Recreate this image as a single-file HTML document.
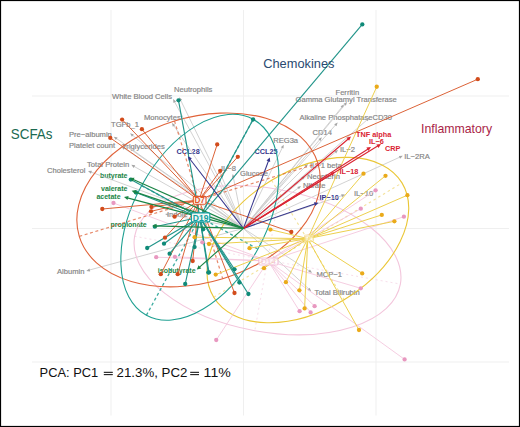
<!DOCTYPE html>
<html><head><meta charset="utf-8"><style>html,body{margin:0;padding:0;background:#fff;overflow:hidden;}svg{display:block;}svg text{font-family:"Liberation Sans", sans-serif;}</style></head>
<body>
<svg width="520" height="427" viewBox="0 0 520 427" font-family="Liberation Sans, sans-serif">
<rect x="0" y="0" width="520" height="427" fill="#fff"/>
<line x1="111" y1="10" x2="111" y2="415.5" stroke="#efefef" stroke-width="1"/>
<line x1="243.5" y1="10" x2="243.5" y2="415.5" stroke="#efefef" stroke-width="1"/>
<line x1="376" y1="10" x2="376" y2="415.5" stroke="#efefef" stroke-width="1"/>
<line x1="32" y1="96" x2="509" y2="96" stroke="#efefef" stroke-width="1"/>
<line x1="32" y1="228.5" x2="509" y2="228.5" stroke="#efefef" stroke-width="1"/>
<line x1="32" y1="362" x2="509" y2="362" stroke="#efefef" stroke-width="1"/>
<text x="112" y="98.8" font-size="7.6" fill="#858585" stroke="#858585" stroke-width="0.18">White Blood Cells</text>
<text x="174" y="91.8" font-size="7.6" fill="#858585" stroke="#858585" stroke-width="0.18">Neutrophils</text>
<text x="144" y="120.3" font-size="7.6" fill="#858585" stroke="#858585" stroke-width="0.18">Monocytes</text>
<text x="111" y="127.3" font-size="7.6" fill="#858585" stroke="#858585" stroke-width="0.18">TGFb_1</text>
<text x="69" y="136.8" font-size="7.6" fill="#858585" stroke="#858585" stroke-width="0.18">Pre−albumin</text>
<text x="69" y="148.3" font-size="7.6" fill="#858585" stroke="#858585" stroke-width="0.18">Platelet count</text>
<text x="122" y="148.6" font-size="7.6" fill="#858585" stroke="#858585" stroke-width="0.18">Triglycerides</text>
<text x="87" y="166.8" font-size="7.6" fill="#858585" stroke="#858585" stroke-width="0.18">Total Protein</text>
<text x="47" y="173.3" font-size="7.6" fill="#858585" stroke="#858585" stroke-width="0.18">Cholesterol</text>
<text x="57" y="273.6" font-size="7.6" fill="#858585" stroke="#858585" stroke-width="0.18">Albumin</text>
<text x="240" y="175.5" font-size="7.6" fill="#858585" stroke="#858585" stroke-width="0.18">Glucose</text>
<text x="221" y="171.2" font-size="7.6" fill="#858585" stroke="#858585" stroke-width="0.18">IL−8</text>
<text x="273.2" y="143.3" font-size="7.6" fill="#858585" stroke="#858585" stroke-width="0.18">REG3a</text>
<text x="312.5" y="135.3" font-size="7.6" fill="#858585" stroke="#858585" stroke-width="0.18">CD14</text>
<text x="299.5" y="120.3" font-size="7.6" fill="#858585" stroke="#858585" stroke-width="0.18">Alkaline Phosphatase</text>
<text x="295.5" y="101.7" font-size="7.6" fill="#858585" stroke="#858585" stroke-width="0.18">Gamma Glutamyl Transferase</text>
<text x="335.5" y="94.5" font-size="7.6" fill="#858585" stroke="#858585" stroke-width="0.18">Ferritin</text>
<text x="372.5" y="119.8" font-size="7.6" fill="#858585" stroke="#858585" stroke-width="0.18">CD30</text>
<text x="340" y="152.3" font-size="7.6" fill="#858585" stroke="#858585" stroke-width="0.18">IL−2</text>
<text x="310" y="167.8" font-size="7.6" fill="#858585" stroke="#858585" stroke-width="0.18">IL−1 beta</text>
<text x="307" y="178.6" font-size="7.6" fill="#858585" stroke="#858585" stroke-width="0.18">Neopterin</text>
<text x="303" y="188" font-size="7.6" fill="#858585" stroke="#858585" stroke-width="0.18">Nitrate</text>
<text x="354" y="195.8" font-size="7.6" fill="#858585" stroke="#858585" stroke-width="0.18">IL−10</text>
<text x="404.2" y="158.6" font-size="7.6" fill="#858585" stroke="#858585" stroke-width="0.18">IL−2RA</text>
<text x="316.4" y="276.8" font-size="7.6" fill="#858585" stroke="#858585" stroke-width="0.18">MCP−1</text>
<text x="314.6" y="294.9" font-size="7.6" fill="#858585" stroke="#858585" stroke-width="0.18">Total Bilirubin</text>
<text x="167" y="217.4" font-size="7.6" fill="#858585" stroke="#858585" stroke-width="0.18">Indole</text>
<text x="176.6" y="154" font-size="7.3" font-weight="bold" fill="#35358c">CCL28</text>
<text x="254.5" y="153.8" font-size="7.3" font-weight="bold" fill="#35358c">CCL25</text>
<text x="319.5" y="200.3" font-size="7.3" font-weight="bold" fill="#35358c">IP−10</text>
<text x="356" y="137.2" font-size="7.3" font-weight="bold" fill="#da2432">TNF alpha</text>
<text x="369" y="143.8" font-size="7.3" font-weight="bold" fill="#da2432">IL−6</text>
<text x="385" y="150.8" font-size="7.3" font-weight="bold" fill="#da2432">CRP</text>
<text x="339.5" y="173.8" font-size="7.3" font-weight="bold" fill="#da2432">IL−18</text>
<text x="99.9" y="177.7" font-size="7" font-weight="bold" fill="#1b8545">butyrate</text>
<text x="101" y="190.7" font-size="7" font-weight="bold" fill="#1b8545">valerate</text>
<text x="96.4" y="199.4" font-size="7" font-weight="bold" fill="#1b8545">acetate</text>
<text x="110.6" y="227.4" font-size="7" font-weight="bold" fill="#1b8545">propionate</text>
<text x="157.8" y="272.8" font-size="7" font-weight="bold" fill="#1b8545">isobutyrate</text>
<line x1="243.4" y1="228.4" x2="174.1" y2="101.0" stroke="#cacaca" stroke-width="0.85" opacity="1"/><polygon points="173.1,99.1 176.1,101.5 173.5,103.0" fill="#a6a6a6" opacity="1"/>
<line x1="243.4" y1="228.4" x2="180.1" y2="99.1" stroke="#cacaca" stroke-width="0.85" opacity="1"/><polygon points="179.2,97.2 182.1,99.8 179.4,101.1" fill="#a6a6a6" opacity="1"/>
<line x1="243.4" y1="228.4" x2="173.2" y2="124.7" stroke="#cacaca" stroke-width="0.85" opacity="1"/><polygon points="172.0,122.9 175.3,125.0 172.8,126.7" fill="#a6a6a6" opacity="1"/>
<line x1="243.4" y1="228.4" x2="131.8" y2="134.6" stroke="#cacaca" stroke-width="0.85" opacity="1"/><polygon points="130.1,133.2 133.8,134.4 131.9,136.7" fill="#a6a6a6" opacity="1"/>
<line x1="243.4" y1="228.4" x2="115.6" y2="137.9" stroke="#cacaca" stroke-width="0.85" opacity="1"/><polygon points="113.8,136.7 117.6,137.6 115.9,140.0" fill="#a6a6a6" opacity="1"/>
<line x1="243.4" y1="228.4" x2="123.2" y2="147.7" stroke="#cacaca" stroke-width="0.85" opacity="1"/><polygon points="121.4,146.5 125.2,147.3 123.6,149.8" fill="#a6a6a6" opacity="1"/>
<line x1="243.4" y1="228.4" x2="124.8" y2="145.2" stroke="#cacaca" stroke-width="0.85" opacity="1"/><polygon points="123.0,144.0 126.8,144.8 125.1,147.3" fill="#a6a6a6" opacity="1"/>
<line x1="243.4" y1="228.4" x2="133.2" y2="165.9" stroke="#cacaca" stroke-width="0.85" opacity="1"/><polygon points="131.3,164.8 135.2,165.3 133.7,167.9" fill="#a6a6a6" opacity="1"/>
<line x1="243.4" y1="228.4" x2="90.0" y2="171.7" stroke="#cacaca" stroke-width="0.85" opacity="1"/><polygon points="88.0,171.0 91.9,170.8 90.9,173.7" fill="#a6a6a6" opacity="1"/>
<line x1="243.4" y1="228.4" x2="88.4" y2="270.3" stroke="#cacaca" stroke-width="0.85" opacity="1"/><polygon points="86.3,270.9 89.4,268.5 90.2,271.4" fill="#a6a6a6" opacity="1"/>
<line x1="243.4" y1="228.4" x2="233.1" y2="176.1" stroke="#cacaca" stroke-width="0.85" opacity="1"/><polygon points="232.7,174.0 234.9,177.2 231.9,177.8" fill="#a6a6a6" opacity="1"/>
<line x1="243.4" y1="228.4" x2="219.8" y2="172.0" stroke="#cacaca" stroke-width="0.85" opacity="1"/><polygon points="219.0,170.0 221.8,172.7 219.0,173.9" fill="#a6a6a6" opacity="1"/>
<line x1="243.4" y1="228.4" x2="282.8" y2="146.6" stroke="#cacaca" stroke-width="0.85" opacity="1"/><polygon points="283.7,144.7 283.5,148.6 280.8,147.3" fill="#a6a6a6" opacity="1"/>
<line x1="243.4" y1="228.4" x2="320.4" y2="138.9" stroke="#cacaca" stroke-width="0.85" opacity="1"/><polygon points="321.8,137.3 320.6,141.0 318.3,139.1" fill="#a6a6a6" opacity="1"/>
<line x1="243.4" y1="228.4" x2="336.3" y2="124.1" stroke="#cacaca" stroke-width="0.85" opacity="1"/><polygon points="337.7,122.5 336.4,126.2 334.2,124.2" fill="#a6a6a6" opacity="1"/>
<line x1="243.4" y1="228.4" x2="342.6" y2="106.2" stroke="#cacaca" stroke-width="0.85" opacity="1"/><polygon points="344.0,104.5 342.9,108.2 340.6,106.3" fill="#a6a6a6" opacity="1"/>
<line x1="243.4" y1="228.4" x2="345.6" y2="103.7" stroke="#cacaca" stroke-width="0.85" opacity="1"/><polygon points="347.0,102.0 345.9,105.7 343.6,103.8" fill="#a6a6a6" opacity="1"/>
<line x1="243.4" y1="228.4" x2="367.8" y2="119.2" stroke="#cacaca" stroke-width="0.85" opacity="1"/><polygon points="369.4,117.8 367.7,121.3 365.7,119.0" fill="#a6a6a6" opacity="1"/>
<line x1="243.4" y1="228.4" x2="336.3" y2="151.4" stroke="#cacaca" stroke-width="0.85" opacity="1"/><polygon points="338.0,150.0 336.2,153.5 334.3,151.1" fill="#a6a6a6" opacity="1"/>
<line x1="243.4" y1="228.4" x2="306.5" y2="165.5" stroke="#cacaca" stroke-width="0.85" opacity="1"/><polygon points="308.0,164.0 306.5,167.6 304.4,165.5" fill="#a6a6a6" opacity="1"/>
<line x1="243.4" y1="228.4" x2="303.4" y2="177.4" stroke="#cacaca" stroke-width="0.85" opacity="1"/><polygon points="305.0,176.0 303.2,179.5 301.3,177.2" fill="#a6a6a6" opacity="1"/>
<line x1="243.4" y1="228.4" x2="299.3" y2="187.3" stroke="#cacaca" stroke-width="0.85" opacity="1"/><polygon points="301.0,186.0 299.0,189.3 297.2,186.9" fill="#a6a6a6" opacity="1"/>
<line x1="243.4" y1="228.4" x2="343.0" y2="195.3" stroke="#cacaca" stroke-width="0.85" opacity="1"/><polygon points="345.0,194.6 342.1,197.2 341.1,194.3" fill="#a6a6a6" opacity="1"/>
<line x1="243.4" y1="228.4" x2="400.8" y2="156.7" stroke="#cacaca" stroke-width="0.85" opacity="1"/><polygon points="402.8,155.8 400.1,158.7 398.9,155.9" fill="#a6a6a6" opacity="1"/>
<line x1="243.4" y1="228.4" x2="310.3" y2="271.6" stroke="#cacaca" stroke-width="0.85" opacity="1"/><polygon points="312.1,272.8 308.3,272.1 309.9,269.6" fill="#a6a6a6" opacity="1"/>
<line x1="243.4" y1="228.4" x2="309.6" y2="289.7" stroke="#cacaca" stroke-width="0.85" opacity="1"/><polygon points="311.2,291.2 307.5,289.9 309.6,287.7" fill="#a6a6a6" opacity="1"/>
<line x1="243.4" y1="228.4" x2="167.1" y2="214.4" stroke="#cacaca" stroke-width="0.85" opacity="1"/><polygon points="165.0,214.0 168.8,213.2 168.3,216.1" fill="#a6a6a6" opacity="1"/>
<ellipse cx="267.5" cy="260.2" rx="135" ry="71.6" transform="rotate(10.2 267.5 260.2)" fill="none" stroke="#f3c6dc" stroke-width="1.1"/><line x1="134.6" y1="236.3" x2="400.4" y2="284.1" stroke="#f3c6dc" stroke-width="1.0" stroke-dasharray="2,3" opacity="0.55"/><line x1="280.2" y1="189.7" x2="254.8" y2="330.7" stroke="#f3c6dc" stroke-width="1.0" stroke-dasharray="2,3" opacity="0.55"/>
<ellipse cx="307.86" cy="240.04" rx="110.15" ry="69.86" transform="rotate(-31.27 307.86 240.04)" fill="none" stroke="#eac636" stroke-width="1.1"/><line x1="213.7" y1="297.2" x2="402.0" y2="182.9" stroke="#eac636" stroke-width="1.1" stroke-dasharray="2.5,3" opacity="0.5"/><line x1="271.6" y1="180.3" x2="344.1" y2="299.8" stroke="#eac636" stroke-width="1.1" stroke-dasharray="2.5,3" opacity="0.5"/>
<ellipse cx="198.6" cy="199.9" rx="124.8" ry="82.5" transform="rotate(-17 198.6 199.9)" fill="none" stroke="#e0633a" stroke-width="1.1"/><line x1="79.3" y1="236.4" x2="317.9" y2="163.4" stroke="#e0633a" stroke-width="1.2" stroke-dasharray="3,2.6" opacity="0.75"/><line x1="174.5" y1="121.0" x2="222.7" y2="278.8" stroke="#e0633a" stroke-width="1.2" stroke-dasharray="3,2.6" opacity="0.75"/>
<ellipse cx="199.8" cy="217.3" rx="111.6" ry="66.2" transform="rotate(-61.4 199.8 217.3)" fill="none" stroke="#1fa092" stroke-width="1.1"/><line x1="146.4" y1="315.3" x2="253.2" y2="119.3" stroke="#1fa092" stroke-width="1.35" stroke-dasharray="3,2.6" opacity="0.85"/><line x1="141.7" y1="185.6" x2="257.9" y2="249.0" stroke="#1fa092" stroke-width="1.35" stroke-dasharray="3,2.6" opacity="0.85"/>
<line x1="268.2" y1="261" x2="404.6" y2="359.4" stroke="#f3c4db" stroke-width="0.85"/>
<line x1="268.2" y1="261" x2="360.8" y2="288.3" stroke="#f3c4db" stroke-width="0.85"/>
<line x1="268.2" y1="261" x2="299.6" y2="311.2" stroke="#f3c4db" stroke-width="0.85"/>
<line x1="268.2" y1="261" x2="310.6" y2="312.4" stroke="#f3c4db" stroke-width="0.85"/>
<line x1="268.2" y1="261" x2="314.6" y2="306.2" stroke="#f3c4db" stroke-width="0.85"/>
<line x1="268.2" y1="261" x2="375.6" y2="190.3" stroke="#f3c4db" stroke-width="0.85"/>
<line x1="268.2" y1="261" x2="360.8" y2="208.7" stroke="#f3c4db" stroke-width="0.85"/>
<line x1="268.2" y1="261" x2="403.9" y2="216.7" stroke="#f3c4db" stroke-width="0.85"/>
<line x1="268.2" y1="261" x2="216.25" y2="340" stroke="#f3c4db" stroke-width="0.85"/>
<line x1="268.2" y1="261" x2="113.5" y2="203" stroke="#f3c4db" stroke-width="0.85"/>
<line x1="268.2" y1="261" x2="156.2" y2="257.2" stroke="#f3c4db" stroke-width="0.85"/>
<line x1="268.2" y1="261" x2="174.9" y2="256.8" stroke="#f3c4db" stroke-width="0.85"/>
<line x1="268.2" y1="261" x2="202.3" y2="242.3" stroke="#f3c4db" stroke-width="0.85"/>
<line x1="307.8" y1="238.6" x2="376.75" y2="86.75" stroke="#edd04e" stroke-width="1.0"/>
<line x1="307.8" y1="238.6" x2="363.5" y2="173.7" stroke="#edd04e" stroke-width="1.0"/>
<line x1="307.8" y1="238.6" x2="385.5" y2="175.8" stroke="#edd04e" stroke-width="1.0"/>
<line x1="307.8" y1="238.6" x2="407.4" y2="195.2" stroke="#edd04e" stroke-width="1.0"/>
<line x1="307.8" y1="238.6" x2="381.8" y2="214.9" stroke="#edd04e" stroke-width="1.0"/>
<line x1="307.8" y1="238.6" x2="394.4" y2="221.3" stroke="#edd04e" stroke-width="1.0"/>
<line x1="307.8" y1="238.6" x2="362.2" y2="273.4" stroke="#edd04e" stroke-width="1.0"/>
<line x1="307.8" y1="238.6" x2="359" y2="330" stroke="#edd04e" stroke-width="1.0"/>
<line x1="307.8" y1="238.6" x2="285.9" y2="282.2" stroke="#edd04e" stroke-width="1.0"/>
<line x1="307.8" y1="238.6" x2="299.4" y2="290.3" stroke="#edd04e" stroke-width="1.0"/>
<line x1="307.8" y1="238.6" x2="304.6" y2="308.4" stroke="#edd04e" stroke-width="1.0"/>
<line x1="307.8" y1="238.6" x2="264" y2="268.2" stroke="#edd04e" stroke-width="1.0"/>
<line x1="307.8" y1="238.6" x2="249.5" y2="248.2" stroke="#edd04e" stroke-width="1.0"/>
<line x1="307.8" y1="238.6" x2="215.7" y2="274.6" stroke="#edd04e" stroke-width="1.0"/>
<line x1="307.8" y1="238.6" x2="209" y2="244" stroke="#edd04e" stroke-width="1.0"/>
<line x1="307.8" y1="238.6" x2="270.4" y2="229.6" stroke="#edd04e" stroke-width="1.0"/>
<line x1="307.8" y1="238.6" x2="194.6" y2="237.2" stroke="#edd04e" stroke-width="1.0"/>
<line x1="199" y1="200.2" x2="477.8" y2="79.2" stroke="#dc6338" stroke-width="1.0"/>
<line x1="199" y1="200.2" x2="122.1" y2="119.6" stroke="#dc6338" stroke-width="1.0"/>
<line x1="199" y1="200.2" x2="141.9" y2="129.2" stroke="#dc6338" stroke-width="1.0"/>
<line x1="199" y1="200.2" x2="110.3" y2="137.9" stroke="#dc6338" stroke-width="1.0"/>
<line x1="199" y1="200.2" x2="217.2" y2="144.4" stroke="#dc6338" stroke-width="1.0"/>
<line x1="199" y1="200.2" x2="237.8" y2="156.8" stroke="#dc6338" stroke-width="1.0"/>
<line x1="199" y1="200.2" x2="220.2" y2="170.8" stroke="#dc6338" stroke-width="1.0"/>
<line x1="199" y1="200.2" x2="102.3" y2="209" stroke="#dc6338" stroke-width="1.0"/>
<line x1="199" y1="200.2" x2="151.5" y2="207" stroke="#dc6338" stroke-width="1.0"/>
<line x1="199" y1="200.2" x2="151" y2="211.3" stroke="#dc6338" stroke-width="1.0"/>
<line x1="199" y1="200.2" x2="174.6" y2="216.7" stroke="#dc6338" stroke-width="1.0"/>
<line x1="199" y1="200.2" x2="165" y2="237.7" stroke="#dc6338" stroke-width="1.0"/>
<line x1="199" y1="200.2" x2="192.7" y2="261" stroke="#dc6338" stroke-width="1.0"/>
<line x1="199" y1="200.2" x2="160.8" y2="274.2" stroke="#dc6338" stroke-width="1.0"/>
<line x1="199" y1="200.2" x2="177.7" y2="274.2" stroke="#dc6338" stroke-width="1.0"/>
<line x1="199" y1="200.2" x2="234.5" y2="293" stroke="#dc6338" stroke-width="1.0"/>
<line x1="199" y1="200.2" x2="291.3" y2="232" stroke="#dc6338" stroke-width="1.0"/>
<line x1="199.8" y1="217.3" x2="362.3" y2="24.4" stroke="#22958a" stroke-width="1.15"/>
<line x1="199.8" y1="217.3" x2="178.5" y2="100.3" stroke="#22958a" stroke-width="1.15"/>
<line x1="199.8" y1="217.3" x2="253.1" y2="119.5" stroke="#22958a" stroke-width="1.15"/>
<line x1="199.8" y1="217.3" x2="130.8" y2="179.6" stroke="#22958a" stroke-width="1.15"/>
<line x1="199.8" y1="217.3" x2="136" y2="192.5" stroke="#22958a" stroke-width="1.15"/>
<line x1="199.8" y1="217.3" x2="154.8" y2="226.7" stroke="#22958a" stroke-width="1.15"/>
<line x1="199.8" y1="217.3" x2="147.2" y2="248" stroke="#22958a" stroke-width="1.15"/>
<line x1="199.8" y1="217.3" x2="164" y2="243.7" stroke="#22958a" stroke-width="1.15"/>
<line x1="199.8" y1="217.3" x2="169.6" y2="253.7" stroke="#22958a" stroke-width="1.15"/>
<line x1="199.8" y1="217.3" x2="185.2" y2="284" stroke="#22958a" stroke-width="1.15"/>
<line x1="199.8" y1="217.3" x2="209" y2="272.4" stroke="#22958a" stroke-width="1.15"/>
<line x1="199.8" y1="217.3" x2="194.6" y2="247.1" stroke="#22958a" stroke-width="1.15"/>
<line x1="199.8" y1="217.3" x2="234.5" y2="269.3" stroke="#22958a" stroke-width="1.15"/>
<line x1="199.8" y1="217.3" x2="239.4" y2="282.5" stroke="#22958a" stroke-width="1.15"/>
<line x1="199.8" y1="217.3" x2="248.4" y2="294" stroke="#22958a" stroke-width="1.15"/>
<line x1="199.8" y1="217.3" x2="208.3" y2="272.6" stroke="#22958a" stroke-width="1.15"/>
<line x1="199.8" y1="217.3" x2="203.2" y2="229.3" stroke="#22958a" stroke-width="1.15"/>
<circle cx="404.6" cy="359.4" r="2.15" fill="#e898c0"/>
<circle cx="360.8" cy="288.3" r="2.15" fill="#e898c0"/>
<circle cx="299.6" cy="311.2" r="2.15" fill="#e898c0"/>
<circle cx="310.6" cy="312.4" r="2.15" fill="#e898c0"/>
<circle cx="314.6" cy="306.2" r="2.15" fill="#e898c0"/>
<circle cx="375.6" cy="190.3" r="2.15" fill="#e898c0"/>
<circle cx="360.8" cy="208.7" r="2.15" fill="#e898c0"/>
<circle cx="403.9" cy="216.7" r="2.15" fill="#e898c0"/>
<circle cx="216.25" cy="340" r="2.15" fill="#e898c0"/>
<circle cx="113.5" cy="203" r="2.15" fill="#e898c0"/>
<circle cx="156.2" cy="257.2" r="2.15" fill="#e898c0"/>
<circle cx="174.9" cy="256.8" r="2.15" fill="#e898c0"/>
<circle cx="202.3" cy="242.3" r="2.15" fill="#e898c0"/>
<circle cx="376.75" cy="86.75" r="2.15" fill="#eaaa1a"/>
<circle cx="363.5" cy="173.7" r="2.15" fill="#eaaa1a"/>
<circle cx="385.5" cy="175.8" r="2.15" fill="#eaaa1a"/>
<circle cx="407.4" cy="195.2" r="2.15" fill="#eaaa1a"/>
<circle cx="381.8" cy="214.9" r="2.15" fill="#eaaa1a"/>
<circle cx="394.4" cy="221.3" r="2.15" fill="#eaaa1a"/>
<circle cx="362.2" cy="273.4" r="2.15" fill="#eaaa1a"/>
<circle cx="359" cy="330" r="2.15" fill="#eaaa1a"/>
<circle cx="285.9" cy="282.2" r="2.15" fill="#eaaa1a"/>
<circle cx="299.4" cy="290.3" r="2.15" fill="#eaaa1a"/>
<circle cx="304.6" cy="308.4" r="2.15" fill="#eaaa1a"/>
<circle cx="264" cy="268.2" r="2.15" fill="#eaaa1a"/>
<circle cx="249.5" cy="248.2" r="2.15" fill="#eaaa1a"/>
<circle cx="215.7" cy="274.6" r="2.15" fill="#eaaa1a"/>
<circle cx="209" cy="244" r="2.15" fill="#eaaa1a"/>
<circle cx="270.4" cy="229.6" r="2.15" fill="#eaaa1a"/>
<circle cx="194.6" cy="237.2" r="2.15" fill="#eaaa1a"/>
<circle cx="477.8" cy="79.2" r="2.15" fill="#d24c1c"/>
<circle cx="122.1" cy="119.6" r="2.15" fill="#d24c1c"/>
<circle cx="141.9" cy="129.2" r="2.15" fill="#d24c1c"/>
<circle cx="110.3" cy="137.9" r="2.15" fill="#d24c1c"/>
<circle cx="217.2" cy="144.4" r="2.15" fill="#d24c1c"/>
<circle cx="237.8" cy="156.8" r="2.15" fill="#d24c1c"/>
<circle cx="220.2" cy="170.8" r="2.15" fill="#d24c1c"/>
<circle cx="102.3" cy="209" r="2.15" fill="#d24c1c"/>
<circle cx="151.5" cy="207" r="2.15" fill="#d24c1c"/>
<circle cx="151" cy="211.3" r="2.15" fill="#d24c1c"/>
<circle cx="174.6" cy="216.7" r="2.15" fill="#d24c1c"/>
<circle cx="165" cy="237.7" r="2.15" fill="#d24c1c"/>
<circle cx="192.7" cy="261" r="2.15" fill="#d24c1c"/>
<circle cx="160.8" cy="274.2" r="2.15" fill="#d24c1c"/>
<circle cx="177.7" cy="274.2" r="2.15" fill="#d24c1c"/>
<circle cx="234.5" cy="293" r="2.15" fill="#d24c1c"/>
<circle cx="291.3" cy="232" r="2.15" fill="#d24c1c"/>
<circle cx="362.3" cy="24.4" r="2.15" fill="#0f8a78"/>
<circle cx="178.5" cy="100.3" r="2.15" fill="#0f8a78"/>
<circle cx="253.1" cy="119.5" r="2.15" fill="#0f8a78"/>
<circle cx="130.8" cy="179.6" r="2.15" fill="#0f8a78"/>
<circle cx="136" cy="192.5" r="2.15" fill="#0f8a78"/>
<circle cx="154.8" cy="226.7" r="2.15" fill="#0f8a78"/>
<circle cx="147.2" cy="248" r="2.15" fill="#0f8a78"/>
<circle cx="164" cy="243.7" r="2.15" fill="#0f8a78"/>
<circle cx="169.6" cy="253.7" r="2.15" fill="#0f8a78"/>
<circle cx="185.2" cy="284" r="2.15" fill="#0f8a78"/>
<circle cx="209" cy="272.4" r="2.15" fill="#0f8a78"/>
<circle cx="194.6" cy="247.1" r="2.15" fill="#0f8a78"/>
<circle cx="234.5" cy="269.3" r="2.15" fill="#0f8a78"/>
<circle cx="239.4" cy="282.5" r="2.15" fill="#0f8a78"/>
<circle cx="248.4" cy="294" r="2.15" fill="#0f8a78"/>
<circle cx="208.3" cy="272.6" r="2.15" fill="#0f8a78"/>
<circle cx="203.2" cy="229.3" r="2.15" fill="#0f8a78"/>
<line x1="243.4" y1="228.4" x2="189.3" y2="158.2" stroke="#35358c" stroke-width="1.05" opacity="1"/><polygon points="187.8,156.2 191.9,158.3 188.8,160.7" fill="#35358c" opacity="1"/>
<line x1="243.4" y1="228.4" x2="268.9" y2="159.8" stroke="#35358c" stroke-width="1.05" opacity="1"/><polygon points="269.8,157.4 270.2,162.0 266.5,160.6" fill="#35358c" opacity="1"/>
<line x1="243.4" y1="228.4" x2="316.1" y2="203.6" stroke="#35358c" stroke-width="1.05" opacity="1"/><polygon points="318.5,202.8 315.2,206.0 313.9,202.3" fill="#35358c" opacity="1"/>
<line x1="243.4" y1="228.4" x2="349.1" y2="138.2" stroke="#da2432" stroke-width="1.15" opacity="1"/><polygon points="351.0,136.6 349.1,140.8 346.5,137.8" fill="#da2432" opacity="1"/>
<line x1="243.4" y1="228.4" x2="368.9" y2="148.4" stroke="#da2432" stroke-width="1.15" opacity="1"/><polygon points="371.0,147.0 368.5,150.9 366.4,147.6" fill="#da2432" opacity="1"/>
<line x1="243.4" y1="228.4" x2="378.9" y2="145.3" stroke="#da2432" stroke-width="1.15" opacity="1"/><polygon points="381.0,144.0 378.5,147.9 376.4,144.5" fill="#da2432" opacity="1"/>
<line x1="243.4" y1="228.4" x2="332.9" y2="173.3" stroke="#da2432" stroke-width="1.15" opacity="1"/><polygon points="335.0,172.0 332.5,175.9 330.4,172.5" fill="#da2432" opacity="1"/>
<line x1="243.4" y1="228.4" x2="132.1" y2="179.0" stroke="#1b8545" stroke-width="1.15" opacity="1"/><polygon points="129.8,178.0 134.5,177.8 132.8,181.6" fill="#1b8545" opacity="1"/>
<line x1="243.4" y1="228.4" x2="134.1" y2="191.6" stroke="#1b8545" stroke-width="1.15" opacity="1"/><polygon points="131.7,190.8 136.4,190.1 135.0,194.1" fill="#1b8545" opacity="1"/>
<line x1="243.4" y1="228.4" x2="126.4" y2="197.6" stroke="#1b8545" stroke-width="1.15" opacity="1"/><polygon points="124.0,197.0 128.6,196.0 127.5,200.1" fill="#1b8545" opacity="1"/>
<line x1="243.4" y1="228.4" x2="154.8" y2="225.9" stroke="#1b8545" stroke-width="1.15" opacity="1"/><polygon points="152.3,225.8 156.6,223.8 156.4,228.0" fill="#1b8545" opacity="1"/>
<line x1="243.4" y1="228.4" x2="198.7" y2="267.9" stroke="#1b8545" stroke-width="1.15" opacity="1"/><polygon points="196.8,269.6 198.6,265.2 201.3,268.4" fill="#1b8545" opacity="1"/>
<g opacity="1"><rect x="193.3" y="196.4" width="12.7" height="7.9" fill="#fff" fill-opacity="0.9" stroke="#e2582a" stroke-width="1.1" rx="1.2"/><text x="199.7" y="203.3" font-size="8.2" font-weight="bold" text-anchor="middle" fill="#e2582a">D7</text></g>
<g opacity="1"><rect x="191.4" y="212.9" width="18.4" height="9.0" fill="#fff" fill-opacity="0.9" stroke="#12a0a0" stroke-width="1.1" rx="1.2"/><text x="200.6" y="220.9" font-size="8.6" font-weight="bold" text-anchor="middle" fill="#12a0a0">D19</text></g>
<g opacity="0.8"><rect x="258.8" y="258" width="19.2" height="7.0" fill="#fff" fill-opacity="0.9" stroke="#f0b8d4" stroke-width="1.1" rx="1.2"/><text x="268.4" y="264.0" font-size="8" font-weight="normal" text-anchor="middle" fill="#f0b8d4">D14</text></g>
<g opacity="0.7"><rect x="304.5" y="235" width="9.0" height="6.5" fill="#fff" fill-opacity="0.9" stroke="#f5dc80" stroke-width="1.1" rx="1.2"/><text x="309.0" y="240.5" font-size="7" font-weight="normal" text-anchor="middle" fill="#f5dc80">D0</text></g>
<text x="10.8" y="138.6" font-size="13.4" fill="#1b6a52" transform="translate(10.8 138.6) scale(1 1.04) translate(-10.8 -138.6)">SCFAs</text>
<text x="263.2" y="67.6" font-size="13.3" fill="#2b4a70" transform="translate(263.2 67.6) scale(0.965 1.03) translate(-263.2 -67.6)">Chemokines</text>
<text x="421" y="132.7" font-size="12.7" fill="#aa1f48" transform="translate(421 132.7) scale(0.97 1) translate(-421 -132.7)">Inflammatory</text>
<g fill="#111"><text x="39.6" y="376.9" font-size="13" textLength="58.6" lengthAdjust="spacingAndGlyphs">PCA: PC1</text><text x="116.6" y="376.9" font-size="13" textLength="70.8" lengthAdjust="spacingAndGlyphs">21.3%, PC2</text><text x="203.6" y="376.9" font-size="13" textLength="27.2" lengthAdjust="spacingAndGlyphs">11%</text><rect x="103.8" y="371.8" width="9" height="1.05"/><rect x="103.8" y="374.1" width="9" height="1.05"/><rect x="190.2" y="371.8" width="8.8" height="1.05"/><rect x="190.2" y="374.1" width="8.8" height="1.05"/></g>
<rect x="0.5" y="0.5" width="519" height="426" fill="none" stroke="#000" stroke-width="1.2"/>
</svg>
</body></html>
